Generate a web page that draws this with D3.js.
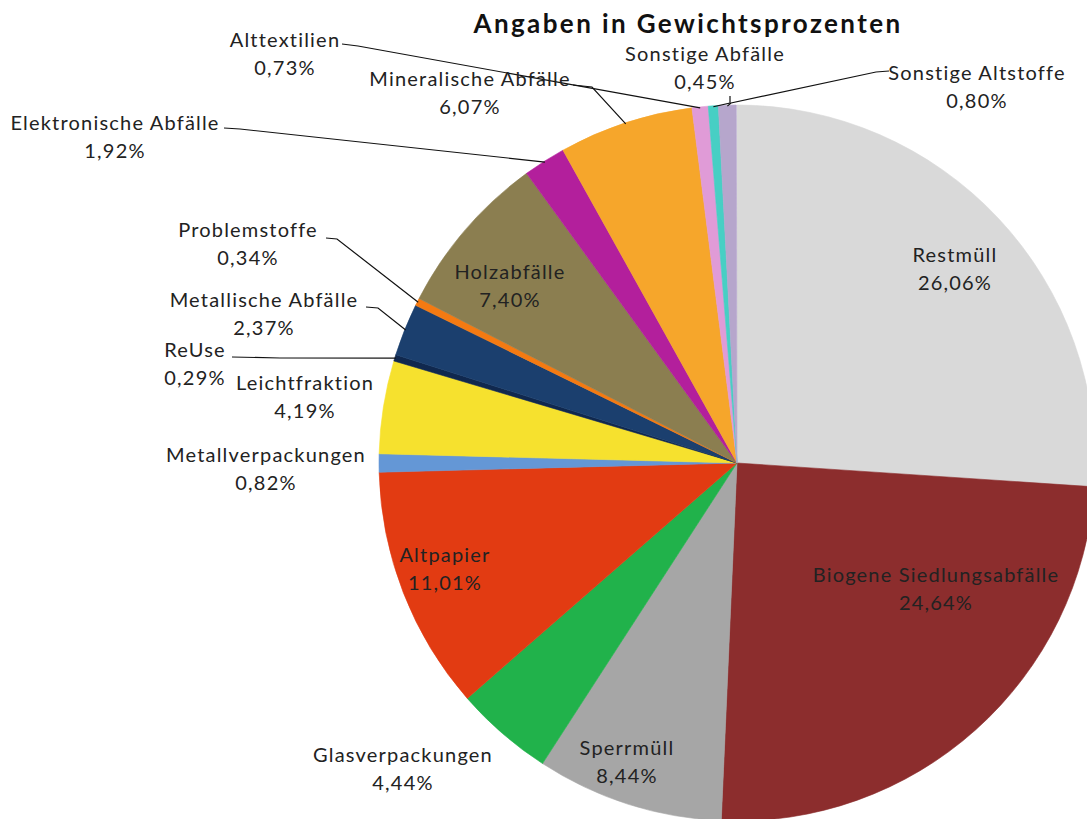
<!DOCTYPE html>
<html><head><meta charset="utf-8">
<script src="https://cdn.jsdelivr.net/npm/d3@7"></script>
<style>html,body{margin:0;padding:0;background:#fff;overflow:hidden}</style>
</head><body>
<svg id="chart" width="1087" height="819"></svg>
<script>
const categories = ["Restmüll","Biogene Siedlungsabfälle","Sperrmüll","Glasverpackungen","Altpapier","Metallverpackungen","Leichtfraktion","ReUse","Metallische Abfälle","Problemstoffe","Holzabfälle","Elektronische Abfälle","Mineralische Abfälle","Alttextilien","Sonstige Abfälle","Sonstige Altstoffe"];
const values = [26.06,24.64,8.44,4.44,11.01,0.82,4.19,0.29,2.37,0.34,7.40,1.92,6.07,0.73,0.45,0.80];
const colors = ["#d9d9d9","#8c2d2d","#a6a6a6","#21b24b","#e23b12","#6497d6","#f6e12e","#10284e","#1b3f6e","#f47a12","#8b7e50","#b31f9c","#f6a62b","#e09bd7","#47cfc4","#b6a6cc"];
const title = "Angaben in Gewichtsprozenten";

// label placement (layout only): centre x, first-line centre y, optional leader start
const labelLayout = [
  {x:955,y:255},
  {x:936,y:575},
  {x:627,y:748},
  {x:403,y:755},
  {x:445,y:555},
  {x:266,y:455},
  {x:305,y:383},
  {x:195,y:350, lead:[[232,357],[280,358]]},
  {x:264,y:300, lead:[[366,307],[378,308]]},
  {x:248,y:230, lead:[[326,238],[337,239]]},
  {x:510,y:272},
  {x:115,y:123, lead:[[224,128],[240,129]]},
  {x:470,y:79, lead:[[573,85],[592,87]]},
  {x:285,y:40, lead:[[342,44],[358,46]]},
  {x:705,y:54, lead:[[730,96],[730,103]]},
  {x:977,y:73, lead:[[889,71],[876,72],[731,103]]}
];

const svg = d3.select("#chart");
const cx = 737, cy = 463, R = 358;
const total = 100;
const pie = d3.pie().sort(null).value(d => d.v).startAngle(0).endAngle(2*Math.PI*d3.sum(values)/total);
const data = categories.map((c,i)=>({c, v:values[i], col:colors[i], lay:labelLayout[i]}));
const arcs = pie(data);
const arc = d3.arc().innerRadius(0).outerRadius(R);
const g = svg.append("g").attr("transform",`translate(${cx},${cy})`);
g.selectAll("path").data(arcs).join("path")
  .attr("d",arc).attr("fill",d=>d.data.col)
  .attr("stroke",d=>d.data.col).attr("stroke-width",0.6);

const fmt = v => d3.format(".2f")(v).replace(".",",") + "%";

// leader lines
const edge = d3.arc().innerRadius(R-1).outerRadius(R-1);
arcs.forEach(a=>{
  const L = a.data.lay;
  if(!L.lead) return;
  const c = edge.centroid(a);
  const pts = L.lead.concat([[cx+c[0], cy+c[1]]]);
  svg.append("path").attr("d", d3.line()(pts))
    .attr("fill","none").attr("stroke","#111").attr("stroke-width",1.2);
});

// labels
const lab = svg.append("g").attr("font-family","Lato, 'Open Sans', sans-serif").attr("font-size",20).attr("fill","#222");
arcs.forEach(a=>{
  const L = a.data.lay;
  const t = lab.append("text").attr("text-anchor","middle").attr("letter-spacing","1.2");
  t.append("tspan").attr("x",L.x).attr("y",L.y+7).text(a.data.c);
  t.append("tspan").attr("x",L.x).attr("y",L.y+35).text(fmt(a.data.v));
});

svg.append("text").attr("x",688).attr("y",33).attr("text-anchor","middle")
  .attr("font-family","Lato, sans-serif").attr("font-weight","bold").attr("font-size",26)
  .attr("letter-spacing","2.4").attr("fill","#111").text(title);
</script>
</body></html>
